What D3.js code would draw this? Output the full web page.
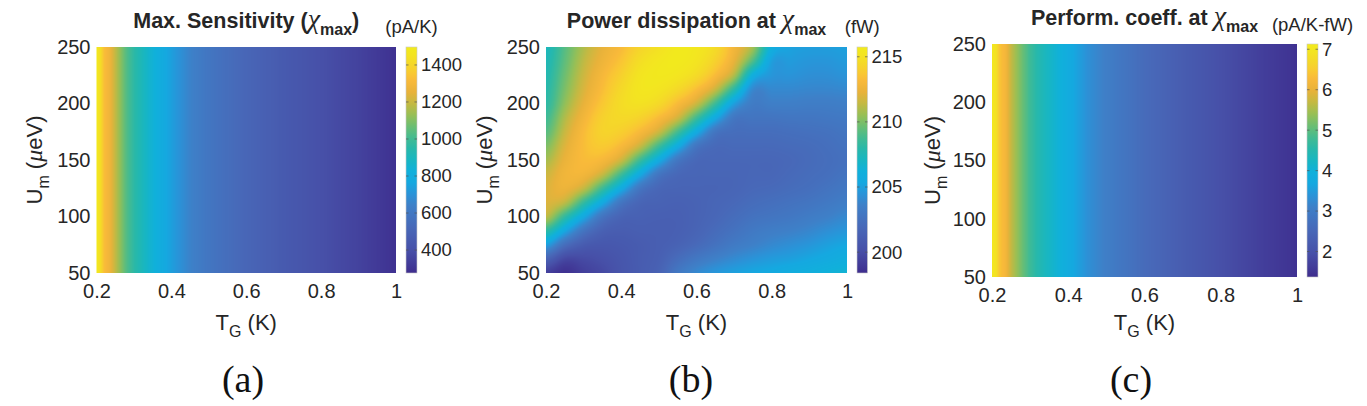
<!DOCTYPE html>
<html>
<head>
<meta charset="utf-8">
<script src="https://cdn.jsdelivr.net/npm/d3@7"></script>
<style>
html, body { margin: 0; padding: 0; background: #fff; }
svg { display: block; font-family: "Liberation Sans", Arial, Helvetica, sans-serif; }
</style>
</head>
<body>
<div id="fig"></div>
<script>
const W = 1367, H = 406;

// (a) max sensitivity, only depends on T_G
const tgA = [0.2, 0.21, 0.22, 0.235, 0.25, 0.265, 0.28, 0.3, 0.32, 0.34, 0.37, 0.4, 0.45, 0.5, 0.6, 0.7, 0.8, 0.9, 1.0];
const sensA = [1490, 1430, 1330, 1280, 1190, 1110, 1030, 960, 910, 860, 800, 740, 650, 590, 510, 450, 400, 350, 290];
const climA = [276, 1497];
const cbTicksA = [400, 600, 800, 1000, 1200, 1400];

// (b) power dissipation at chi_max, rows = U_m, cols = T_G
const tgB = [0.2, 0.25, 0.3, 0.35, 0.4, 0.45, 0.5, 0.55, 0.6, 0.65, 0.7, 0.75, 0.8, 0.85, 0.9, 0.95, 1.0];
const umB = [50, 62.5, 75, 87.5, 100, 112.5, 125, 137.5, 150, 162.5, 175, 187.5, 200, 212.5, 225, 237.5, 250];
const powerB = [
    [199.3, 198.6, 199.3, 199.8, 200.5, 201.0, 201.5, 203.0, 204.0, 204.6, 205.0, 205.3, 205.5, 205.8, 206.0, 206.3, 206.5],
    [201.5, 199.8, 199.9, 200.2, 200.6, 201.0, 201.3, 202.2, 203.0, 203.6, 204.1, 204.5, 204.8, 205.0, 205.3, 205.6, 205.9],
    [205.0, 202.3, 201.0, 200.7, 200.8, 201.0, 201.2, 201.5, 202.0, 202.6, 203.2, 203.6, 204.0, 204.3, 204.6, 205.0, 205.3],
    [208.2, 205.4, 202.8, 201.4, 201.1, 201.2, 201.2, 201.3, 201.6, 202.1, 202.6, 203.1, 203.4, 203.6, 203.9, 204.3, 204.6],
    [211.3, 208.3, 205.5, 202.8, 201.6, 201.4, 201.3, 201.3, 201.5, 201.8, 202.2, 202.6, 202.8, 203.0, 203.3, 203.6, 204.0],
    [212.0, 211.3, 208.4, 205.6, 202.9, 201.7, 201.5, 201.4, 201.5, 201.7, 201.9, 202.2, 202.4, 202.6, 202.8, 203.1, 203.4],
    [212.0, 212.5, 211.4, 208.6, 205.7, 202.9, 201.8, 201.6, 201.6, 201.6, 201.7, 201.9, 202.0, 202.2, 202.4, 202.7, 203.0],
    [211.6, 212.7, 212.8, 211.5, 208.7, 205.6, 202.9, 201.9, 201.7, 201.7, 201.7, 201.8, 201.8, 202.0, 202.2, 202.4, 202.7],
    [210.8, 212.4, 213.2, 213.0, 211.6, 208.6, 205.7, 203.0, 201.9, 201.8, 201.8, 201.8, 201.8, 201.9, 202.1, 202.3, 202.5],
    [210.0, 212.0, 213.3, 213.8, 213.1, 211.5, 208.7, 205.8, 202.9, 202.0, 202.0, 202.0, 202.0, 202.1, 202.2, 202.4, 202.6],
    [209.2, 211.5, 213.2, 214.2, 214.0, 213.1, 211.6, 208.8, 205.7, 202.9, 202.3, 202.3, 202.3, 202.4, 202.5, 202.6, 202.8],
    [208.6, 211.0, 212.8, 214.1, 214.5, 214.2, 213.2, 211.7, 208.7, 205.6, 203.0, 202.8, 202.8, 202.9, 202.9, 203.0, 203.1],
    [208.1, 210.4, 212.3, 213.7, 214.7, 215.0, 214.5, 213.2, 211.6, 208.6, 205.0, 203.3, 203.5, 203.5, 203.4, 203.4, 203.5],
    [207.9, 210.0, 211.9, 213.3, 214.5, 215.3, 215.2, 214.5, 213.3, 211.5, 208.0, 204.0, 204.0, 204.0, 203.9, 203.9, 204.0],
    [207.7, 209.7, 211.6, 213.0, 214.1, 215.2, 215.5, 215.3, 214.6, 213.2, 211.0, 206.0, 204.6, 204.5, 204.3, 204.3, 204.5],
    [207.5, 209.4, 211.3, 212.6, 213.6, 214.8, 215.4, 215.6, 215.2, 214.1, 212.3, 209.0, 205.0, 204.8, 204.6, 204.6, 204.8],
    [207.3, 209.2, 211.0, 212.3, 213.2, 214.3, 215.0, 215.6, 215.4, 214.6, 212.8, 210.7, 206.0, 205.1, 204.9, 204.9, 205.0]
];
const climB = [198.4, 215.75];
const cbTicksB = [200, 205, 210, 215];

// (c) performance coefficient, only depends on T_G
const tgC = [0.2, 0.21, 0.22, 0.235, 0.25, 0.265, 0.28, 0.3, 0.32, 0.34, 0.37, 0.4, 0.45, 0.5, 0.6, 0.7, 0.8, 0.9, 1.0];
const coeffC = [7.05, 6.9, 6.4, 6.2, 5.7, 5.4, 5.1, 4.75, 4.5, 4.3, 4.05, 3.8, 3.35, 3.05, 2.6, 2.25, 1.95, 1.68, 1.45];
const climC = [1.37, 7.13];
const cbTicksC = [2, 3, 4, 5, 6, 7];

const xTicks = [0.2, 0.4, 0.6, 0.8, 1];
const yTicks = [50, 100, 150, 200, 250];

// parula-like colormap as it looks in the figure
const cmapStops = [0, 0.1, 0.2, 0.3, 0.35, 0.4, 0.45, 0.5, 0.55, 0.6, 0.65, 0.7, 0.75, 0.8, 0.85, 0.88, 0.92, 0.96, 1];
const cmapColors = ["#3e2d8e", "#4750a8", "#4868b8", "#3e80c8", "#2a93d8", "#15a8e0", "#10b0db", "#18b6c2",
    "#28b8aa", "#45bb90", "#6cbe72", "#98bf55", "#c4b942", "#e8b23a", "#f8b93a", "#f9c733", "#f5d62a", "#f3e222", "#f2eb1c"];

const textCol = "#262626";
const sansFont = '"Liberation Sans", Arial, Helvetica, sans-serif';
const serifFont = '"Liberation Serif", "Times New Roman", serif';

// interpolation helpers
const sA = d3.scaleLinear().domain(tgA).range(sensA).clamp(true);
const sC = d3.scaleLinear().domain(tgC).range(coeffC).clamp(true);
const bCol = d3.scaleLinear().domain(d3.extent(tgB)).range([0, tgB.length - 1]).clamp(true);
const bRow = d3.scaleLinear().domain(d3.extent(umB)).range([0, umB.length - 1]).clamp(true);

function cr(p0, p1, p2, p3, t) {
    return p1 + 0.5 * t * (p2 - p0 + t * (2 * p0 - 5 * p1 + 4 * p2 - p3 + t * (3 * (p1 - p2) + p3 - p0)));
}
function powerAt(t, u) {
    const fx = bCol(t), fy = bRow(u);
    const i = Math.min(Math.floor(fx), tgB.length - 2), j = Math.min(Math.floor(fy), umB.length - 2);
    const tx = fx - i, ty = fy - j;
    const ci = k => Math.max(0, Math.min(tgB.length - 1, k));
    const rj = k => Math.max(0, Math.min(umB.length - 1, k));
    const rows = [-1, 0, 1, 2].map(d => {
        const r = powerB[rj(j + d)];
        return cr(r[ci(i - 1)], r[ci(i)], r[ci(i + 1)], r[ci(i + 2)], tx);
    });
    return cr(rows[0], rows[1], rows[2], rows[3], ty);
}

const panels = [
    {
        x0: 96.5, x1: 396, y0: 47, y1: 273, cb0: 406, cb1: 417,
        clim: climA, cbTicks: cbTicksA, value: (t, u) => sA(t),
        title: "Max. Sensitivity (", titleTail: ")", titleY: 28,
        unit: "(pA/K)", unitY: 33, ylabX: 42, tag: "(a)", tagX: 243
    },
    {
        x0: 546, x1: 847, y0: 47, y1: 273, cb0: 857, cb1: 867.5,
        clim: climB, cbTicks: cbTicksB, value: powerAt,
        title: "Power dissipation at ", titleTail: "", titleY: 28,
        unit: "(fW)", unitY: 33, ylabX: 492, tag: "(b)", tagX: 691
    },
    {
        x0: 992, x1: 1297, y0: 44, y1: 277, cb0: 1307, cb1: 1318,
        clim: climC, cbTicks: cbTicksC, value: (t, u) => sC(t),
        title: "Perform. coeff. at ", titleTail: "", titleY: 25,
        unit: "(pA/K-fW)", unitY: 31, ylabX: 940, tag: "(c)", tagX: 1131
    }
];

const svg = d3.select("#fig").append("svg")
    .attr("width", W)
    .attr("height", H);
const defs = svg.append("defs");

panels.forEach((p, pi) => {
    const x = d3.scaleLinear().domain([0.2, 1]).range([p.x0, p.x1]);
    const y = d3.scaleLinear().domain([50, 250]).range([p.y1, p.y0]);
    const lo = p.clim[0], hi = p.clim[1];
    const color = d3.scaleLinear()
        .domain(cmapStops.map(s => lo + s * (hi - lo)))
        .range(cmapColors)
        .clamp(true);

    // lookup table so the pixel loop stays cheap
    const lut = d3.range(512).map(k => d3.rgb(color(lo + (k / 511) * (hi - lo))));

    const w = Math.round(p.x1 - p.x0), h = Math.round(p.y1 - p.y0);
    const cv = document.createElement("canvas");
    cv.width = w;
    cv.height = h;
    const ctx = cv.getContext("2d");
    const img = ctx.createImageData(w, h);
    for (let j = 0; j < h; j++) {
        const u = y.invert(p.y0 + (j + 0.5) * (p.y1 - p.y0) / h);
        for (let i = 0; i < w; i++) {
            const t = x.invert(p.x0 + (i + 0.5) * (p.x1 - p.x0) / w);
            const v = p.value(t, u);
            const k = Math.max(0, Math.min(511, Math.round((v - lo) / (hi - lo) * 511)));
            const c = lut[k];
            const o = (j * w + i) * 4;
            img.data[o] = c.r;
            img.data[o + 1] = c.g;
            img.data[o + 2] = c.b;
            img.data[o + 3] = 255;
        }
    }
    ctx.putImageData(img, 0, 0);
    svg.append("image")
        .attr("x", p.x0)
        .attr("y", p.y0)
        .attr("width", p.x1 - p.x0)
        .attr("height", p.y1 - p.y0)
        .attr("preserveAspectRatio", "none")
        .attr("href", cv.toDataURL());

    // axes
    const xAxis = svg.append("g")
        .attr("transform", "translate(0," + p.y1 + ")")
        .call(d3.axisBottom(x).tickValues(xTicks).tickSize(0).tickPadding(11)
            .tickFormat(d => String(+d.toFixed(1))));
    const yAxis = svg.append("g")
        .attr("transform", "translate(" + p.x0 + ",0)")
        .call(d3.axisLeft(y).tickValues(yTicks).tickSize(0).tickPadding(6));
    [xAxis, yAxis].forEach(a => {
        a.select(".domain").remove();
        a.selectAll("text")
            .style("font-family", sansFont)
            .style("font-size", "20px")
            .attr("fill", textCol);
    });

    // axis labels
    const xl = svg.append("text")
        .attr("x", (p.x0 + p.x1) / 2)
        .attr("y", 330)
        .attr("text-anchor", "middle")
        .attr("fill", textCol)
        .style("font-size", "22px");
    xl.append("tspan").text("T");
    xl.append("tspan").attr("dy", 7).style("font-size", "16px").text("G");
    xl.append("tspan").attr("dy", -7).text(" (K)");

    const yl = svg.append("text")
        .attr("transform", "translate(" + p.ylabX + "," + (p.y0 + p.y1) / 2 + ") rotate(-90)")
        .attr("text-anchor", "middle")
        .attr("fill", textCol)
        .style("font-size", "22px");
    yl.append("tspan").text("U");
    yl.append("tspan").attr("dy", 7).style("font-size", "16px").text("m");
    yl.append("tspan").attr("dy", -7).text(" (");
    yl.append("tspan").style("font-family", serifFont).style("font-style", "italic").style("font-size", "24px").text("\u03bc");
    yl.append("tspan").text("eV)");

    // title
    const tt = svg.append("text")
        .attr("x", (p.x0 + p.x1) / 2)
        .attr("y", p.titleY)
        .attr("text-anchor", "middle")
        .attr("fill", textCol)
        .style("font-size", "21.5px")
        .style("font-weight", "bold");
    tt.append("tspan").text(p.title);
    tt.append("tspan")
        .style("font-family", serifFont)
        .style("font-style", "italic")
        .style("font-weight", "normal")
        .style("font-size", "28px")
        .text("\u03c7");
    tt.append("tspan").attr("dy", 7).style("font-size", "16px").text("max");
    if (p.titleTail) tt.append("tspan").attr("dy", -7).text(p.titleTail);

    // colorbar
    const gid = "cbgrad" + pi;
    const grad = defs.append("linearGradient")
        .attr("id", gid)
        .attr("x1", 0).attr("y1", 1).attr("x2", 0).attr("y2", 0);
    d3.range(61).forEach(k => {
        grad.append("stop")
            .attr("offset", k / 60)
            .attr("stop-color", color(lo + (k / 60) * (hi - lo)));
    });
    svg.append("rect")
        .attr("x", p.cb0)
        .attr("y", p.y0)
        .attr("width", p.cb1 - p.cb0)
        .attr("height", p.y1 - p.y0)
        .attr("fill", "url(#" + gid + ")")
        .attr("stroke", "#c8c8c8")
        .attr("stroke-width", 0.6);

    const cbScale = d3.scaleLinear().domain(p.clim).range([p.y1, p.y0]);
    const cbAxis = svg.append("g")
        .attr("transform", "translate(" + p.cb1 + ",0)")
        .call(d3.axisRight(cbScale).tickValues(p.cbTicks).tickSize(0).tickPadding(4)
            .tickFormat(d => String(d)));
    cbAxis.select(".domain").remove();
    cbAxis.selectAll("text")
        .style("font-family", sansFont)
        .style("font-size", "18.5px")
        .attr("fill", textCol);
    p.cbTicks.forEach(v => {
        [[p.cb0, p.cb0 + 2.5], [p.cb1 - 2.5, p.cb1]].forEach(seg => {
            svg.append("line")
                .attr("x1", seg[0]).attr("x2", seg[1])
                .attr("y1", cbScale(v)).attr("y2", cbScale(v))
                .attr("stroke", "#555")
                .attr("stroke-width", 0.7);
        });
    });

    svg.append("text")
        .attr("x", (p.cb0 + p.cb1) / 2)
        .attr("y", p.unitY)
        .attr("text-anchor", "middle")
        .attr("fill", textCol)
        .style("font-size", "18.5px")
        .text(p.unit);

    // panel tag
    svg.append("text")
        .attr("x", p.tagX)
        .attr("y", 392)
        .attr("text-anchor", "middle")
        .attr("fill", "#111")
        .style("font-family", serifFont)
        .style("font-size", "38px")
        .text(p.tag);
});
</script>
</body>
</html>
